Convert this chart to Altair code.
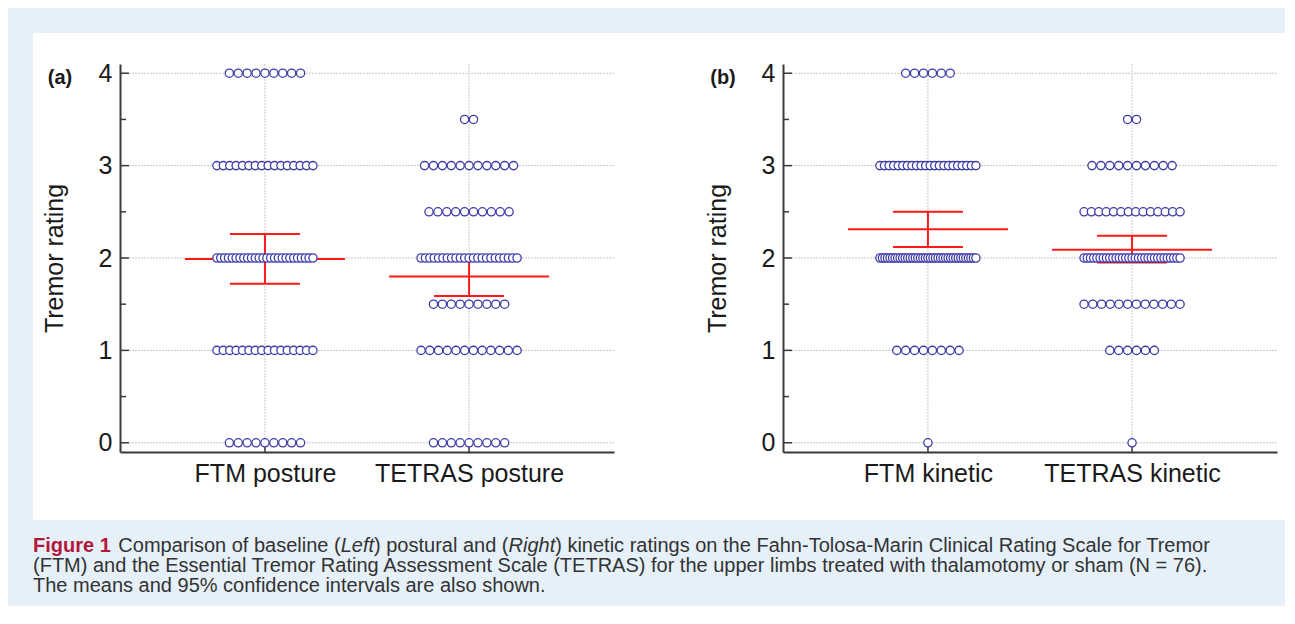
import altair as alt
import pandas as pd

# ---------------- data ----------------
rating_levels = [0, 1, 1.5, 2, 2.5, 3, 3.5, 4]
categories_a = ["FTM posture", "TETRAS posture"]
categories_b = ["FTM kinetic", "TETRAS kinetic"]
counts_ftm_posture = [9, 16, 0, 26, 0, 16, 0, 9]
counts_tetras_posture = [9, 12, 9, 23, 10, 11, 2, 0]
counts_ftm_kinetic = [1, 8, 0, 39, 0, 22, 0, 6]
counts_tetras_kinetic = [1, 6, 12, 31, 14, 10, 2, 0]
mean_a = [1.99, 1.80]
ci_low_a = [1.72, 1.59]
ci_high_a = [2.26, 2.01]
mean_b = [2.31, 2.09]
ci_low_b = [2.12, 1.95]
ci_high_b = [2.50, 2.24]
y_ticks = [0, 1, 2, 3, 4]
y_minor = [0.5, 1.5, 2.5, 3.5]
cat_positions = [1, 2]
caption_lines = [
    ["Figure 1", "Comparison of baseline (", "Left", ") postural and (", "Right",
     ") kinetic ratings on the Fahn-Tolosa-Marin Clinical Rating Scale for Tremor"],
    ["(FTM) and the Essential Tremor Rating Assessment Scale (TETRAS) for the upper limbs treated with thalamotomy or sham (N = 76)."],
    ["The means and 95% confidence intervals are also shown."],
]

# ---------------- styling ----------------
FONT = "Liberation Sans"
BG = "#e6f0f9"
AX = "#3a3a3a"
GRID = "#c8c8c8"
DOT = "#3c3ca6"
RED = "#ff1a1a"
TXT = "#1a1a1a"
W, H = 494, 388
X_DOMAIN = [0.29, 2.71]
Y_DOMAIN = [-0.1, 4.1]
PX_PER_X = W / (X_DOMAIN[1] - X_DOMAIN[0])
DOT_STEP = 8.9 / PX_PER_X
MAX_SPAN = 96 / PX_PER_X
MEAN_HALF = 80 / PX_PER_X
CAP_HALF = 35 / PX_PER_X
CAP_SIZE = 20
AXIS_SIZE = 25

# Arial / Liberation Sans advance widths (per 1000 em) for laying out caption segments
AW = {" ": 278, "(": 333, ")": 333, "-": 333, ".": 278, "%": 889, "=": 584}
AW.update({c: 556 for c in "0123456789"})
AW.update(dict(zip("abcdefghijklmnopqrstuvwxyz",
                   [556, 556, 500, 556, 556, 278, 556, 556, 222, 222, 500, 222, 833, 556, 556,
                    556, 556, 333, 500, 278, 556, 500, 722, 500, 500, 500])))
AW.update(dict(zip("ABCDEFGHIJKLMNOPQRSTUVWXYZ",
                   [667, 667, 722, 722, 667, 611, 778, 722, 278, 500, 667, 556, 833, 722, 778,
                    667, 778, 722, 667, 611, 722, 667, 944, 667, 667, 611])))
AWB = {"F": 611, "i": 278, "g": 611, "u": 611, "r": 389, "e": 556, " ": 278, "1": 556}


def text_width(s, table, size):
    return sum(table.get(c, 556) for c in s) / 1000 * size


def dot_frame(cats, count_lists):
    rows = []
    for pos, cat, counts in zip(cat_positions, cats, count_lists):
        for level, n in zip(rating_levels, counts):
            if n == 0:
                continue
            step = DOT_STEP if n == 1 else min(DOT_STEP, MAX_SPAN / (n - 1))
            for i in range(n):
                rows.append({"category": cat, "xpos": pos + (i - (n - 1) / 2) * step,
                             "rating": level})
    return pd.DataFrame(rows)


def panel(cats, count_lists, means, lows, highs, letter, decorate=False):
    xs = alt.Scale(domain=X_DOMAIN, nice=False, zero=False)
    ys = alt.Scale(domain=Y_DOMAIN, nice=False, zero=False)
    label_expr = f"datum.value == 1 ? '{cats[0]}' : '{cats[1]}'"
    x_axis = alt.Axis(values=cat_positions, labelExpr=label_expr, title=None, grid=False,
                      ticks=False, domainColor=AX, domainWidth=2, labelFont=FONT,
                      labelFontSize=AXIS_SIZE, labelColor=TXT, labelPadding=9,
                      labelLimit=500, labelOverlap=False, labelFlush=False, zindex=1)
    y_axis = alt.Axis(values=y_ticks, title="Tremor rating", grid=False, ticks=False,
                      domainColor=AX, domainWidth=2, labelFont=FONT, labelFontSize=AXIS_SIZE,
                      labelColor=TXT, labelPadding=8, titleFont=FONT, titleFontSize=AXIS_SIZE,
                      titleFontWeight="normal", titleColor=TXT, titlePadding=31, zindex=1)

    def X(field, **kw):
        return alt.X(field, scale=xs, axis=x_axis, title=None, **kw)

    def Y(field, **kw):
        return alt.Y(field, scale=ys, axis=y_axis, title="Tremor rating", **kw)

    layers = []
    if decorate:
        layers.append(
            alt.Chart(pd.DataFrame({"k": [0]})).mark_rect(color="white").encode(
                x=alt.value(-87), x2=alt.value(1165), y=alt.value(-31), y2=alt.value(456))
        )

    hgrid = alt.Chart(pd.DataFrame({"v": y_ticks})).mark_rule(
        color=GRID, strokeDash=[2, 1], strokeWidth=1).encode(
        y=Y("v:Q"), x=alt.value(0), x2=alt.value(W))
    vgrid = alt.Chart(pd.DataFrame({"p": cat_positions})).mark_rule(
        color=GRID, strokeDash=[2, 1], strokeWidth=1).encode(
        x=X("p:Q"), y=alt.value(0), y2=alt.value(H))
    major = alt.Chart(pd.DataFrame({"v": y_ticks})).mark_rule(
        color=AX, strokeWidth=1.5).encode(y=Y("v:Q"), x=alt.value(0), x2=alt.value(9))
    minor = alt.Chart(pd.DataFrame({"v": y_minor})).mark_rule(
        color=AX, strokeWidth=1.5).encode(y=Y("v:Q"), x=alt.value(0), x2=alt.value(6))
    xt = alt.Chart(pd.DataFrame({"p": cat_positions})).mark_rule(
        color=AX, strokeWidth=1.5).encode(x=X("p:Q"), y=alt.value(H), y2=alt.value(H - 5))

    stats = pd.DataFrame({"pos": cat_positions, "mean": means, "lo": lows, "hi": highs})
    sbase = alt.Chart(stats)
    mean_rule = sbase.transform_calculate(
        a=f"datum.pos - {MEAN_HALF}", b=f"datum.pos + {MEAN_HALF}").mark_rule(
        color=RED, strokeWidth=2).encode(x=X("a:Q"), x2="b:Q", y=Y("mean:Q"))
    caps = sbase.transform_fold(["lo", "hi"], as_=["which", "val"]).transform_calculate(
        a=f"datum.pos - {CAP_HALF}", b=f"datum.pos + {CAP_HALF}").mark_rule(
        color=RED, strokeWidth=2).encode(x=X("a:Q"), x2="b:Q", y=Y("val:Q"))
    vert = sbase.mark_rule(color=RED, strokeWidth=2).encode(
        x=X("pos:Q"), y=Y("lo:Q"), y2="hi:Q")

    dots = alt.Chart(dot_frame(cats, count_lists)).mark_point(
        shape="circle", filled=False, fill="white", fillOpacity=1, stroke=DOT,
        strokeWidth=1.3, size=68, opacity=1).encode(x=X("xpos:Q"), y=Y("rating:Q"))

    label = alt.Chart(pd.DataFrame({"t": [letter]})).mark_text(
        font=FONT, fontSize=20, fontWeight="bold", color=TXT, align="center",
        baseline="middle").encode(text="t:N", x=alt.value(-60), y=alt.value(14))

    layers += [hgrid, vgrid, major, minor, xt, mean_rule, caps, vert, dots, label]

    if decorate:
        line_y = [482, 502, 522]
        space = text_width(" ", AW, CAP_SIZE)
        for li, segs in enumerate(caption_lines):
            x = -87
            for si, seg in enumerate(segs):
                is_fig = (li == 0 and si == 0)
                is_ital = seg in ("Left", "Right")
                mk = alt.Chart(pd.DataFrame({"t": [seg]})).mark_text(
                    font=FONT, fontSize=CAP_SIZE, align="left", baseline="middle",
                    color="#b3173a" if is_fig else "#333333",
                    fontWeight="bold" if is_fig else "normal",
                    fontStyle="italic" if is_ital else "normal").encode(
                    text="t:N", x=alt.value(x), y=alt.value(line_y[li]))
                layers.append(mk)
                x += text_width(seg, AWB if is_fig else AW, CAP_SIZE)
                if is_fig:
                    x += space + 2

    return alt.layer(*layers).properties(width=W, height=H)


pa = panel(categories_a, [counts_ftm_posture, counts_tetras_posture],
           mean_a, ci_low_a, ci_high_a, "(a)", decorate=True)
pb = panel(categories_b, [counts_ftm_kinetic, counts_tetras_kinetic],
           mean_b, ci_low_b, ci_high_b, "(b)")

chart = alt.hconcat(pa, pb, spacing=169, bounds="flush").properties(
    background=BG, padding={"left": 25, "top": 25, "right": 0, "bottom": 10}
).configure_view(stroke=None)

chart.save("out.html", embed_options={"renderer": "svg", "actions": False})
